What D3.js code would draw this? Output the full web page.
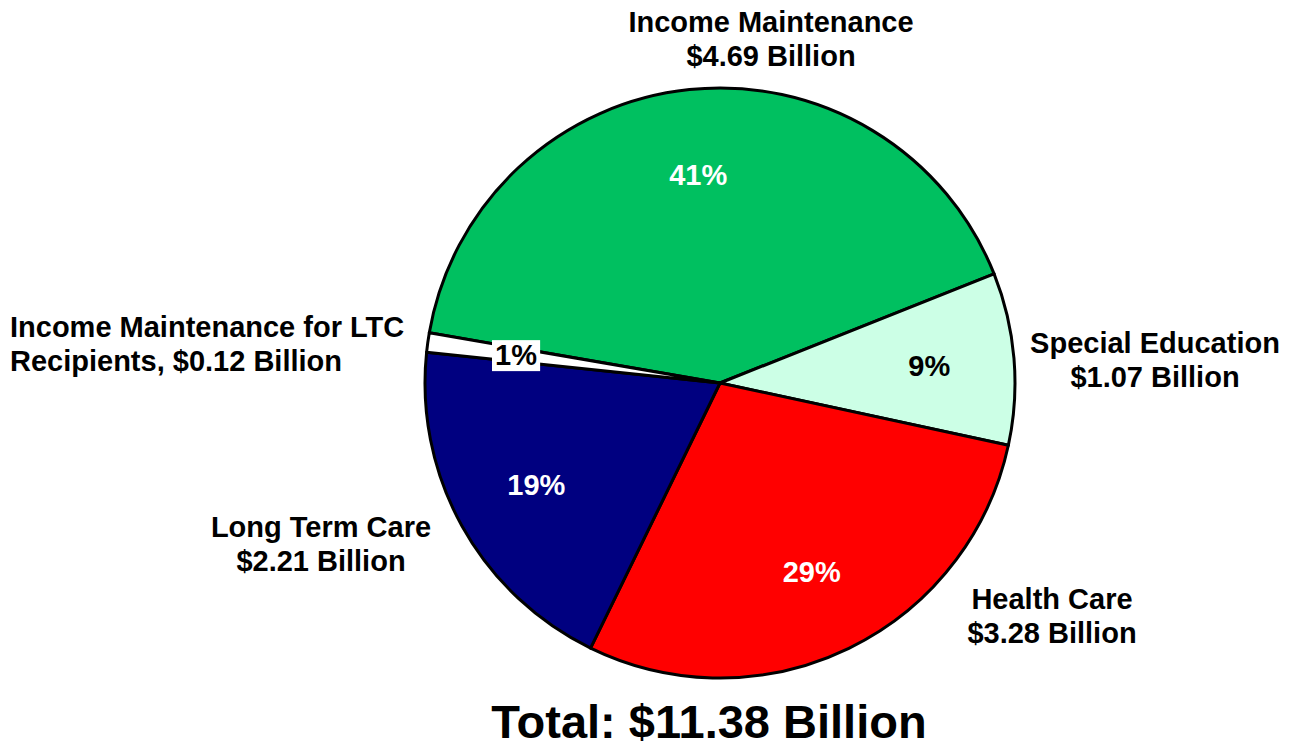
<!DOCTYPE html>
<html>
<head>
<meta charset="utf-8">
<script src="https://cdn.jsdelivr.net/npm/d3@7"></script>
<style>
  html, body { margin: 0; padding: 0; background: #fff; }
  svg { display: block; }
  text { font-family: "Liberation Sans", Arial, sans-serif; font-weight: bold; }
</style>
</head>
<body>
<svg id="chart" width="1290" height="749"></svg>
<script>
// ---- data ----
const categories = ["Income Maintenance", "Special Education", "Health Care", "Long Term Care", "Income Maintenance for LTC Recipients"];
const values = [4.69, 1.07, 3.28, 2.21, 0.12];
const percentLabels = ["41%", "9%", "29%", "19%", "1%"];
const nameLines = [
  ["Income Maintenance", "$4.69 Billion"],
  ["Special Education", "$1.07 Billion"],
  ["Health Care", "$3.28 Billion"],
  ["Long Term Care", "$2.21 Billion"],
  ["Income Maintenance for LTC", "Recipients, $0.12 Billion"]
];
const totalLabel = "Total: $11.38 Billion";

// ---- layout / style ----
const colors = ["#00C060", "#CCFFE6", "#FF0000", "#000080", "#FFFFFF"];
const pctColors = ["#FFFFFF", "#000000", "#FFFFFF", "#FFFFFF", "#000000"];
const pctRadius = [210, 210, 210, 210, 206];
const cx = 720, cy = 383, R = 295;
const fontSize = 29, lineH = 33.5;
const labelPos = [
  {x: 771, y: 32, anchor: "middle"},
  {x: 1155, y: 353, anchor: "middle"},
  {x: 1052, y: 609, anchor: "middle"},
  {x: 321, y: 537, anchor: "middle"},
  {x: 10, y: 337, anchor: "start"}
];

const svg = d3.select("#chart");
const g = svg.append("g").attr("transform", `translate(${cx},${cy})`);

const start = -80.2 * Math.PI / 180;
const pie = d3.pie().sort(null).value(d => d).startAngle(start).endAngle(start + 2 * Math.PI);
const arcs = pie(values);
const arc = d3.arc().innerRadius(0).outerRadius(R);

g.selectAll("path.slice").data(arcs).enter().append("path")
  .attr("class", "slice")
  .attr("d", arc)
  .attr("fill", (d, i) => colors[i])
  .attr("stroke", "#000")
  .attr("stroke-width", 3)
  .attr("stroke-linejoin", "round");

// percent labels
const pct = g.selectAll("g.pct").data(arcs).enter().append("g")
  .attr("class", "pct")
  .attr("transform", (d, i) => {
    const la = d3.arc().innerRadius(pctRadius[i]).outerRadius(pctRadius[i]);
    return `translate(${la.centroid(d)})`;
  });
pct.each(function(d, i) {
  const sel = d3.select(this);
  const t = sel.append("text")
    .attr("text-anchor", "middle")
    .attr("dy", "0.36em")
    .attr("font-size", fontSize)
    .attr("fill", pctColors[i])
    .text(percentLabels[i]);
  if (i === 4) {
    const bb = t.node().getBBox();
    sel.insert("rect", "text")
      .attr("x", bb.x - 3).attr("y", bb.y + 1)
      .attr("width", bb.width + 6).attr("height", bb.height - 1)
      .attr("fill", "#fff");
  }
});

// category labels
nameLines.forEach((lines, i) => {
  const p = labelPos[i];
  const t = svg.append("text")
    .attr("x", p.x).attr("y", p.y)
    .attr("text-anchor", p.anchor)
    .attr("font-size", fontSize)
    .attr("fill", "#000");
  lines.forEach((l, j) => {
    t.append("tspan").attr("x", p.x).attr("y", p.y + j * lineH).text(l);
  });
});

svg.append("text")
  .attr("x", 709).attr("y", 738)
  .attr("text-anchor", "middle")
  .attr("font-size", 47)
  .attr("fill", "#000")
  .text(totalLabel);
</script>
</body>
</html>
